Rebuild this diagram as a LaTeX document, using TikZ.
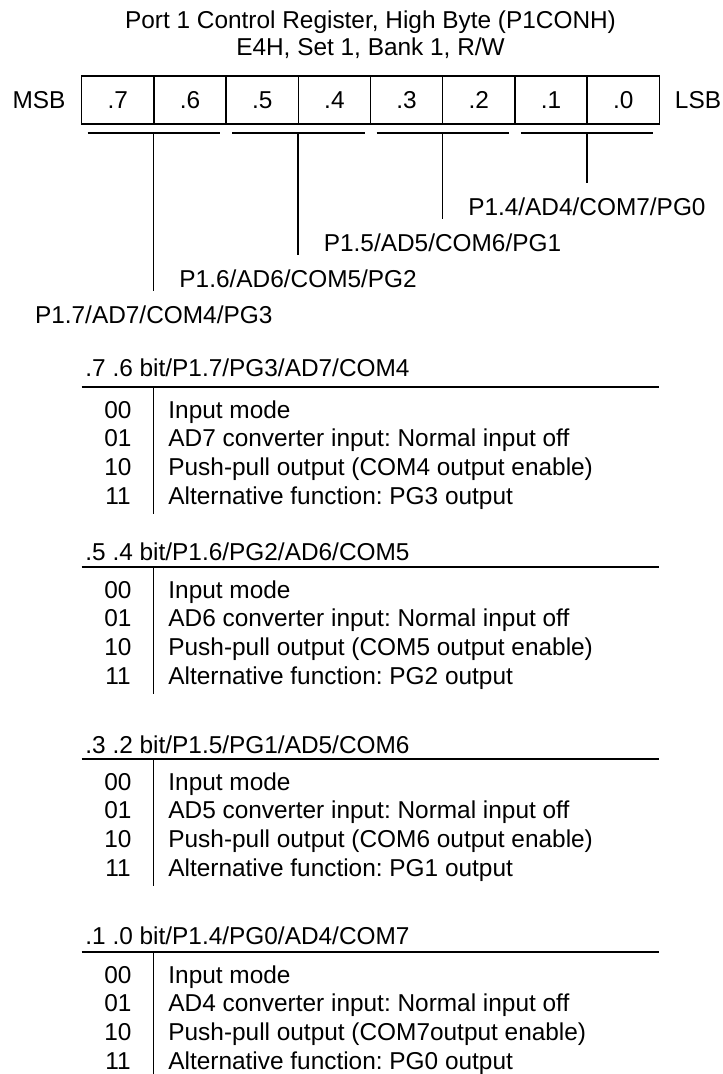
\documentclass[tikz,border=0pt]{standalone}
\usepackage{fontspec}
\setmainfont{Liberation Sans}
\usetikzlibrary{positioning}
\frenchspacing

\begin{document}
\begin{tikzpicture}[
    x=0.5pt, y=-0.5pt,
    every node/.style={font=\fontsize{12.2}{14}\selectfont, inner sep=0pt, text height=8.7pt, text depth=0pt},
    bitcell/.style={draw, line width=0.7pt, minimum width=36.1pt, minimum height=24pt},
    pinlabel/.style={inner ysep=7.2pt},
    lead/.style={line width=0.7pt},
    tablerule/.style={line width=0.9pt}
]
\useasboundingbox (0,0) rectangle (722,1074);

% register title and bit cells
\node (title) at (370.5,20) {Port 1 Control Register, High Byte (P1CONH)};
\node (addr) at (370.5,47) {E4H, Set 1, Bank 1, R/W};
\node (msb) at (39,100) {MSB};
\node (lsb) at (698,100) {LSB};
\foreach \b [count=\i from 0] in {7,...,0}
    \node[bitcell] (b\b) at ({117.8+72.2*\i},100) {.\b};

% bit pairs and pin names
\foreach \k/\pin in {0/{P1.7/AD7/COM4/PG3}, 1/{P1.6/AD6/COM5/PG2}, 2/{P1.5/AD5/COM6/PG1}, 3/{P1.4/AD4/COM7/PG0}} {
    \draw[lead] ({87.7+144.4*\k},133) -- ({220.2+144.4*\k},133);
    \coordinate (u\k) at ({153.7+144.4*\k},133);
    \node[pinlabel] (pin\k) at ({153.7+144.4*\k},{315-36*\k}) {\pin};
    \draw[lead] (u\k) -- (pin\k.north);
}

% one table per bit pair
\foreach \s/\hy/\ry/\head/\ad/\comout/\pg in {
    1/368/387/{.7 .6 bit/P1.7/PG3/AD7/COM4}/AD7/{COM4 output}/PG3,
    2/552/567/{.5 .4 bit/P1.6/PG2/AD6/COM5}/AD6/{COM5 output}/PG2,
    3/745/759/{.3 .2 bit/P1.5/PG1/AD5/COM6}/AD5/{COM6 output}/PG1,
    4/936/952/{.1 .0 bit/P1.4/PG0/AD4/COM7}/AD4/{COM7output}/PG0} {
    \node[anchor=west] (head\s) at (85,\hy) {\head};
    \draw[tablerule] (81.7,\ry) -- (659.3,\ry);
    \draw[lead] (153.7,\ry) -- (153.7,\ry+127);
    \foreach \code/\desc [count=\r from 0] in {
        00/{Input mode},
        01/{\ad\ converter input: Normal input off},
        10/{Push-pull output (\comout\ enable)},
        11/{Alternative function: \pg\ output}} {
        \node (code\s\r) at (118,{\ry+22.5+28.6*\r}) {\code};
        \node[anchor=west] (desc\s\r) at (168,{\ry+22.5+28.6*\r}) {\desc};
    }
}
\end{tikzpicture}
\end{document}
